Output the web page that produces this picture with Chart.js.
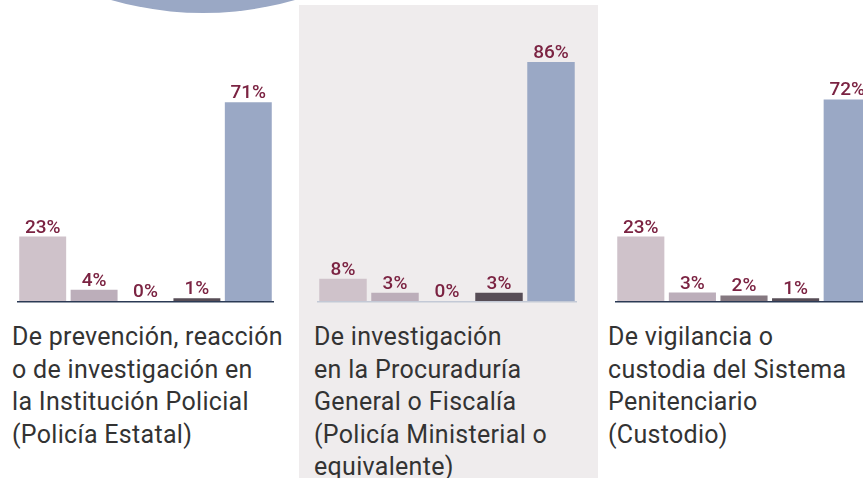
<!DOCTYPE html>
<html>
<head>
<meta charset="utf-8">
<script src="https://cdn.jsdelivr.net/npm/chart.js@4.4.1/dist/chart.umd.min.js"></script>
<style>
  html, body { margin: 0; padding: 0; background: #ffffff; }
  body { width: 863px; height: 478px; position: relative; overflow: hidden; font-family: Roboto, "Noto Sans", sans-serif; }
  #circle { position: absolute; left: -129px; top: -651px; width: 664px; height: 664px; border-radius: 50%; background: #9aa8c5; }
  #panelBg { position: absolute; left: 299px; top: 5px; width: 299px; height: 480px; background: #efeced; }
  .wrap { position: absolute; top: 0; height: 304px; }
  .wrap canvas { display: block; }
  .cat { position: absolute; top: 321px; font-size: 25px; letter-spacing: 0.3px; line-height: 32.5px; color: #333333; white-space: nowrap; }
</style>
</head>
<body>
<div id="circle"></div>
<div id="panelBg"></div>
<div class="wrap" id="w1" style="left:17px;width:257px"><canvas id="c1"></canvas></div>
<div class="wrap" id="w2" style="left:317px;width:260px"><canvas id="c2"></canvas></div>
<div class="wrap" id="w3" style="left:615px;width:258px"><canvas id="c3"></canvas></div>
<div class="cat" id="t1" style="left:12px"></div>
<div class="cat" id="t2" style="left:314px"></div>
<div class="cat" id="t3" style="left:608px"></div>
<script>
// ---- data ----
const categories = [
  ["De prevención, reacción", "o de investigación en", "la Institución Policial", "(Policía Estatal)"],
  ["De investigación", "en la Procuraduría", "General o Fiscalía", "(Policía Ministerial o", "equivalente)"],
  ["De vigilancia o", "custodia del Sistema", "Penitenciario", "(Custodio)"]
];
const seriesLabels = ["Respuesta 1", "Respuesta 2", "Respuesta 3", "Respuesta 4", "Respuesta 5"];
const valuesPolicial = [23, 4, 0, 1, 71];
const valuesMinisterial = [8, 3, 0, 3, 86];
const valuesCustodio = [23, 3, 2, 1, 72];

// ---- styles ----
const barColors = ["#cfc2ca", "#bcaeba", "#857880", "#574d56", "#9aa8c5"];
const labelColor = "#7b2342";

const valueLabels = {
  id: 'valueLabels',
  afterDatasetsDraw(chart) {
    const ctx = chart.ctx;
    const meta = chart.getDatasetMeta(0);
    ctx.save();
    ctx.font = '500 19px Roboto, "Noto Sans", sans-serif';
    ctx.fillStyle = labelColor;
    ctx.textAlign = 'center';
    ctx.textBaseline = 'alphabetic';
    meta.data.forEach((bar, i) => {
      const v = chart.data.datasets[0].data[i];
      ctx.fillText(v + '%', bar.x, bar.y - 4);
    });
    ctx.restore();
  }
};
const baseLine = {
  id: 'baseLine',
  afterDatasetsDraw(chart, args, opts) {
    const ctx = chart.ctx;
    const y = chart.scales.y.getPixelForValue(0);
    ctx.save();
    ctx.strokeStyle = opts.color;
    ctx.lineWidth = 1.5;
    ctx.beginPath();
    ctx.moveTo(chart.chartArea.left, y + 0.75);
    ctx.lineTo(chart.chartArea.right, y + 0.75);
    ctx.stroke();
    ctx.restore();
  }
};

function makeChart(id, values, axisColor, padTop) {
  return new Chart(document.getElementById(id), {
    type: 'bar',
    data: {
      labels: seriesLabels,
      datasets: [{ data: values, backgroundColor: barColors, borderWidth: 0 }]
    },
    options: {
      responsive: true,
      maintainAspectRatio: false,
      animation: false,
      events: [],
      layout: { padding: { top: padTop, bottom: 3, left: 0, right: 0 } },
      datasets: { bar: { barPercentage: 0.913, categoryPercentage: 1 } },
      scales: {
        x: { display: false, offset: true },
        y: { display: false, min: 0, max: 100 }
      },
      plugins: {
        legend: { display: false },
        tooltip: { enabled: false },
        baseLine: { color: axisColor }
      }
    },
    plugins: [valueLabels, baseLine]
  });
}

makeChart('c1', valuesPolicial, '#2b3a55', 21);
makeChart('c2', valuesMinisterial, '#c3c9d6', 23);
makeChart('c3', valuesCustodio, '#2b3a55', 21);

['t1', 't2', 't3'].forEach((id, i) => {
  document.getElementById(id).innerHTML = categories[i].join('<br>');
});
</script>
</body>
</html>
